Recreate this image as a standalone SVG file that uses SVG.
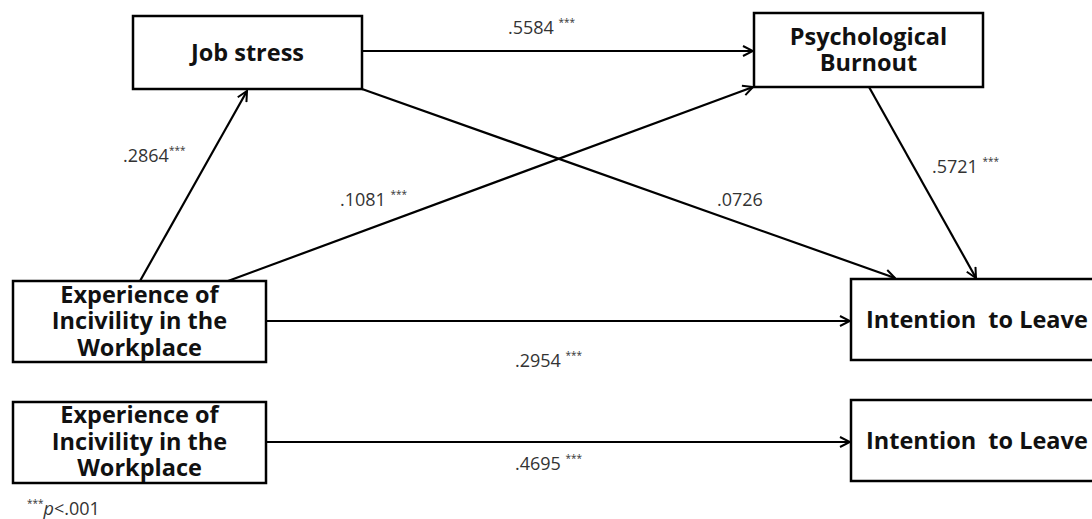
<svg xmlns="http://www.w3.org/2000/svg" width="1092" height="519" viewBox="0 0 1092 519">
<defs>
<marker id="arr" viewBox="0 0 12 12" refX="11" refY="6" markerWidth="12" markerHeight="12" markerUnits="userSpaceOnUse" orient="auto">
<path d="M1,1 L11,6 L1,11" fill="none" stroke="#000" stroke-width="2"/>
</marker>
<style>
.box{fill:#fff;stroke:#000;stroke-width:2.5}
.nt{font-family:"Open Sans","Noto Sans",sans-serif;font-weight:bold;font-size:23.5px;fill:#111;text-anchor:middle}
.nl{font-family:"Open Sans","Noto Sans",sans-serif;font-weight:bold;font-size:23.5px;fill:#111}
.lbl{font-family:"Open Sans","Noto Sans",sans-serif;font-size:18px;fill:#333}
.sup{font-size:10px}
.edge{fill:none;stroke:#000;stroke-width:2.2;marker-end:url(#arr)}
</style>
</defs>
<g id="connectors">
<line class="edge" x1="362" y1="51" x2="753" y2="51"/>
<line class="edge" x1="140" y1="281" x2="247" y2="91"/>
<line class="edge" x1="228" y1="281" x2="753" y2="87"/>
<line class="edge" x1="362" y1="89" x2="895" y2="278"/>
<line class="edge" x1="869" y1="87" x2="976" y2="278"/>
<line class="edge" x1="266" y1="321" x2="850" y2="321"/>
<line class="edge" x1="266" y1="442" x2="850" y2="442"/>
</g>
<g id="labels">
<text class="lbl" x="508" y="34">.5584 <tspan class="sup" dy="-8">***</tspan></text>
<text class="lbl" x="123" y="162">.2864<tspan class="sup" dy="-8">***</tspan></text>
<text class="lbl" x="340" y="206">.1081 <tspan class="sup" dy="-8">***</tspan></text>
<text class="lbl" x="717" y="206">.0726</text>
<text class="lbl" x="932" y="173">.5721 <tspan class="sup" dy="-8">***</tspan></text>
<text class="lbl" x="515" y="367">.2954 <tspan class="sup" dy="-8">***</tspan></text>
<text class="lbl" x="515" y="470">.4695 <tspan class="sup" dy="-8">***</tspan></text>
<text class="lbl" x="27" y="515"><tspan class="sup" dy="-8">***</tspan><tspan dy="8" font-style="italic">p</tspan>&lt;.001</text>
</g>
<g id="job-stress">
<rect class="box" x="133" y="16" width="229" height="73"/>
<text class="nt" x="247.5" y="61">Job stress</text>
</g>
<g id="psychological-burnout">
<rect class="box" x="754" y="13" width="229" height="74"/>
<text class="nt" x="868.5" y="45">Psychological</text>
<text class="nt" x="868.5" y="71">Burnout</text>
</g>
<g id="experience-1">
<rect class="box" x="13" y="281" width="253" height="81"/>
<text class="nt" x="139.5" y="303">Experience of</text>
<text class="nt" x="139.5" y="329">Incivility in the</text>
<text class="nt" x="139.5" y="356">Workplace</text>
</g>
<g id="intention-1">
<rect class="box" x="851" y="279" width="260" height="81"/>
<text class="nl" x="866" y="328" xml:space="preserve">Intention  to Leave</text>
</g>
<g id="experience-2">
<rect class="box" x="13" y="402" width="253" height="81"/>
<text class="nt" x="139.5" y="423">Experience of</text>
<text class="nt" x="139.5" y="450">Incivility in the</text>
<text class="nt" x="139.5" y="476">Workplace</text>
</g>
<g id="intention-2">
<rect class="box" x="851" y="400" width="260" height="81"/>
<text class="nl" x="866" y="449" xml:space="preserve">Intention  to Leave</text>
</g>
</svg>
